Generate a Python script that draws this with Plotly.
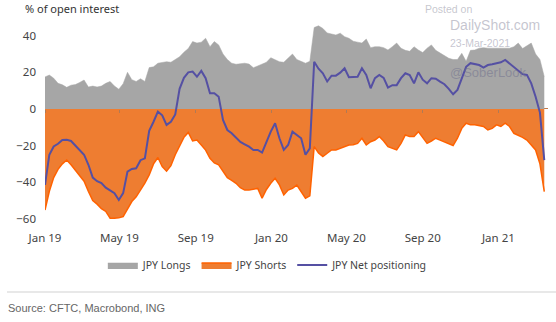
import pandas as pd
import plotly.graph_objects as go

start_date = "2019-01-01"
n_weeks = 116
dates = pd.date_range(start_date, periods=n_weeks, freq="7D")

jpy_longs = [
    17.5, 18.5, 16.8, 14.0, 13.2, 11.8, 13.0, 13.3, 14.5, 15.8,
    12.0, 12.5, 12.0, 12.5, 14.0, 15.0, 12.5, 10.8, 13.8, 20.0,
    16.0, 15.0, 16.5, 15.0, 22.6, 23.0, 25.0, 25.5, 25.8, 25.5,
    26.8, 28.5, 31.0, 33.0, 36.8, 36.0, 36.5, 38.6, 34.0, 36.8,
    35.0, 30.0, 27.0, 25.0, 24.4, 24.8, 25.0, 24.5, 22.5, 23.5,
    24.4, 25.5, 28.0, 27.0, 25.8, 25.5, 27.5, 30.0, 27.0, 25.8,
    25.0, 26.0, 44.5, 45.4, 44.0, 41.5, 41.0, 40.4, 41.4, 39.5,
    38.6, 37.0, 36.5, 36.0, 38.2, 33.5, 34.0, 34.0, 33.5, 32.2,
    34.0, 36.0, 33.2, 32.0, 31.5, 34.0, 32.2, 30.8, 33.2, 35.0,
    32.0, 30.6, 29.5, 27.7, 27.0, 27.0, 30.4, 26.0, 32.0, 32.2,
    33.2, 33.5, 33.2, 33.0, 33.2, 33.2, 33.0, 33.2, 34.0, 36.0,
    33.0, 34.5, 36.0, 30.0, 27.0, 17.6,
]

jpy_shorts = [
    -55.2, -45.0, -37.5, -33.0, -30.0, -27.9, -30.5, -33.5, -36.5, -39.5,
    -45.0, -50.0, -52.0, -54.5, -56.0, -59.7, -59.7, -59.5, -58.8, -54.5,
    -50.6, -48.0, -44.5, -40.5, -36.0, -30.0, -26.5, -31.5, -34.0, -31.0,
    -25.0, -20.0, -15.5, -12.8, -17.5, -17.0, -19.5, -22.5, -27.0, -29.5,
    -30.5, -34.0, -37.5, -39.0, -40.6, -43.0, -44.3, -44.3, -44.0, -43.4,
    -48.8, -44.0, -40.6, -37.9, -41.5, -47.0, -44.3, -43.4, -41.6, -45.0,
    -48.8, -47.5, -20.6, -24.0, -26.0, -24.2, -22.4, -22.4, -21.5, -20.6,
    -19.7, -19.5, -18.8, -16.0, -19.7, -17.9, -17.0, -15.1, -17.5, -20.6,
    -21.5, -22.4, -18.8, -14.2, -15.1, -15.0, -12.4, -15.5, -18.8, -17.5,
    -16.0, -17.0, -17.9, -19.0, -20.0, -16.0, -10.6, -7.8, -8.7, -8.7,
    -9.0, -9.6, -11.5, -10.6, -8.7, -9.6, -7.8, -9.6, -13.3, -14.2,
    -15.5, -17.0, -19.7, -22.4, -30.0, -45.2,
]

jpy_net = [
    -41.5, -25.0, -20.5, -19.0, -17.0, -16.9, -17.5, -20.0, -22.5, -25.0,
    -30.5, -37.5, -39.5, -40.5, -43.0, -44.5, -46.0, -49.7, -46.0, -34.2,
    -32.8, -32.4, -28.0, -27.0, -12.0, -7.0, -1.5, -3.5, -8.7, -7.0,
    -3.0, 11.0, 17.0, 20.0, 20.4, 17.6, 20.8, 16.8, 8.6, 8.6,
    6.7, -6.0, -11.5, -13.3, -15.5, -18.0, -19.3, -20.6, -22.4, -22.4,
    -23.8, -18.0, -12.4, -7.8, -16.0, -22.4, -19.7, -12.4, -14.2, -16.0,
    -25.0, -21.5, 25.8, 22.0, 19.5, 15.0, 18.2, 18.2, 19.8, 22.2,
    17.3, 17.5, 17.6, 22.2, 18.6, 11.3, 16.8, 18.6, 17.0, 11.7,
    13.0, 13.0, 16.8, 19.5, 18.5, 14.0, 20.0, 16.0, 14.0, 16.8,
    16.5, 14.9, 13.5, 11.0, 8.0, 10.4, 16.8, 23.0, 25.0, 24.5,
    24.0, 22.6, 24.0, 24.4, 25.0, 25.5, 26.8, 24.8, 23.1, 21.0,
    19.0, 18.6, 14.0, 6.7, -2.0, -28.0,
]

series_names = ["JPY Longs", "JPY Shorts", "JPY Net positioning"]
x_range = ["2019-01-01", "2021-03-22"]
y_range = [-63.4, 47.5]

FONT = "Noto Sans"
fig = go.Figure()
fig.add_trace(go.Scatter(
    x=dates, y=jpy_longs, name=series_names[0], mode="lines",
    fill="tozeroy", fillcolor="#A6A6A6", line=dict(color="#A6A6A6", width=0.5),
))
fig.add_trace(go.Scatter(
    x=dates, y=jpy_shorts, name=series_names[1], mode="lines",
    fill="tozeroy", fillcolor="#EE7D31", line=dict(color="#FF6200", width=1.5),
))
fig.add_trace(go.Scatter(
    x=dates, y=jpy_net, name=series_names[2], mode="lines",
    line=dict(color="#5550A3", width=2),
))
# helper trace for the tick marks drawn on the zero line
fig.add_trace(go.Scatter(
    x=x_range, y=[None, None], xaxis="x2", showlegend=False,
    hoverinfo="skip", mode="lines",
))

fig.update_layout(
    width=556, height=322,
    margin=dict(l=45, r=8, t=22, b=97),
    paper_bgcolor="white", plot_bgcolor="white",
    font=dict(family=FONT, size=12, color="#444444"),
    showlegend=True,
    legend=dict(
        orientation="h", x=0.443, xanchor="center", y=-0.197, yanchor="middle",
        font=dict(family=FONT, size=10.5, color="#444444"),
        traceorder="normal", itemwidth=30,
    ),
    xaxis=dict(
        type="date", range=x_range, showgrid=False, zeroline=False,
        showline=False, ticks="", tick0="2019-01-01", dtick="M4",
        tickformat="%b %y", ticklabelstandoff=4,
        tickfont=dict(family=FONT, size=11.5, color="#444444"),
    ),
    xaxis2=dict(
        type="date", range=x_range, overlaying="x", anchor="free",
        position=(0 - y_range[0]) / (y_range[1] - y_range[0]),
        showgrid=False, zeroline=False, showline=False,
        ticks="outside", ticklen=3, tickwidth=1, tickcolor="#B07A55",
        tick0="2019-01-01", dtick="M4", showticklabels=False, side="bottom",
    ),
    yaxis=dict(
        range=y_range, showgrid=False, zeroline=True, zerolinecolor="#C0784A",
        zerolinewidth=1, showline=False, ticks="", tickvals=[-60, -40, -20, 0, 20, 40],
        ticklabelstandoff=8,
        tickfont=dict(family=FONT, size=11.5, color="#444444"),
    ),
)

fig.add_annotation(
    text="% of open interest", xref="paper", yref="paper",
    x=-0.0437, y=1.0675, xanchor="left", yanchor="middle", showarrow=False,
    font=dict(family=FONT, size=11, color="#333333"),
)
fig.add_annotation(
    text="Source: CFTC, Macrobond, ING", xref="paper", yref="paper",
    x=-0.0775, y=-0.409, xanchor="left", yanchor="middle", showarrow=False,
    font=dict(family="Liberation Sans", size=11, color="#666666"),
)
fig.add_shape(
    type="line", xref="paper", yref="paper", x0=-0.0755, x1=1.016,
    y0=-0.33, y1=-0.33, line=dict(color="#E0E0E0", width=1.5),
)
# watermark
wm = [
    ("Posted on", 0.7515, 1.0626, 10.5, "rgba(150,150,165,0.55)"),
    ("DailyShot.com", 0.801, 0.985, 14, "rgba(140,140,160,0.5)"),
    ("23-Mar-2021", 0.801, 0.8966, 10.5, "rgba(140,140,160,0.5)"),
    ("@SoberLook", 0.801, 0.7488, 13, "rgba(110,110,140,0.5)"),
]
for txt, xx, yy, sz, col in wm:
    fig.add_annotation(
        text=txt, xref="paper", yref="paper", x=xx, y=yy,
        xanchor="left", yanchor="middle", showarrow=False,
        font=dict(family="Liberation Sans", size=sz, color=col),
    )

fig.write_html("out.html")
